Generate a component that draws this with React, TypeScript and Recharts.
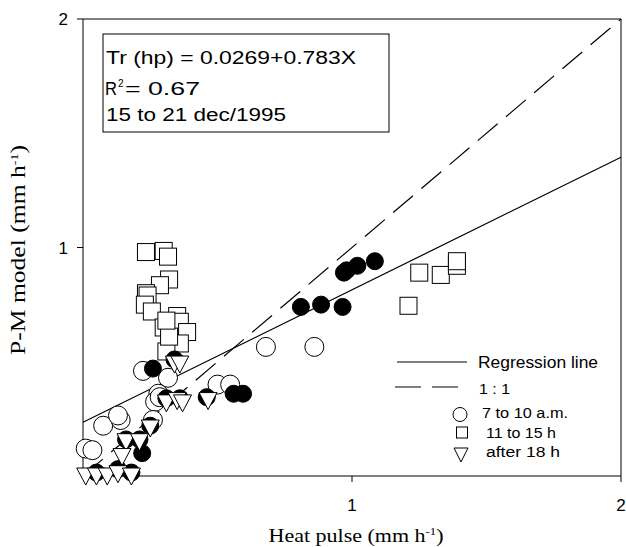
import React from 'react';
import { ScatterChart, Scatter, XAxis, YAxis, ReferenceLine } from 'recharts';

// readings taken off the figure, [heat pulse, P-M model] in mm/h
const morning: [number, number][] = [
    [0.68, 0.565], [0.86, 0.565], [0.5, 0.4], [0.547, 0.4], [0.223, 0.46], [0.316, 0.43],
    [0.28, 0.36], [0.268, 0.325], [0.285, 0.345], [0.075, 0.22], [0.14, 0.245], [0.13, 0.265],
    [0.26, 0.245], [0.01, 0.12], [0.035, 0.113],
];
const midday: [number, number][] = [
    [0.234, 0.98], [0.3, 0.985], [0.316, 0.96], [0.32, 0.86], [0.286, 0.835], [0.234, 0.8],
    [0.24, 0.79], [0.23, 0.75], [0.256, 0.72], [0.35, 0.7], [0.36, 0.675], [0.387, 0.63],
    [0.3, 0.65], [0.36, 0.58], [0.31, 0.545], [0.32, 0.61], [0.31, 0.68],
    [1.25, 0.89], [1.33, 0.88], [1.39, 0.92], [1.39, 0.94], [1.21, 0.745],
];
const filled: [number, number][] = [
    [0.81, 0.74], [0.885, 0.75], [0.965, 0.74], [0.97, 0.89], [0.98, 0.9], [1.02, 0.92],
    [1.085, 0.94], [0.56, 0.36], [0.595, 0.36], [0.22, 0.1], [0.26, 0.47], [0.34, 0.51],
    [0.31, 0.34], [0.46, 0.345], [0.21, 0.16], [0.16, 0.16], [0.25, 0.22], [0.05, 0.015],
    [0.18, 0.015], [0.13, 0.03], [0.36, 0.34],
];
const evening: [number, number][] = [
    [0.34, 0.49], [0.36, 0.49], [0.31, 0.32], [0.35, 0.33], [0.37, 0.32], [0.465, 0.33],
    [0.25, 0.21], [0.16, 0.15], [0.21, 0.15], [0.145, 0.085], [0.01, 0.0], [0.05, 0.0],
    [0.09, 0.0], [0.13, 0.01], [0.18, 0.0],
];

// lines as drawn in the figure
const regressionLine: [number, number][] = [[0, 0.235], [2, 1.395]];
const oneToOne: [number, number][] = [[0, 0], [2, 2]];

const axisTicks = [1, 2];
const axisDomain = [0, 2];

const toPoints = (arr: [number, number][]) => arr.map(([x, y]) => ({ x, y }));

const sans = '"Liberation Sans", Arial, sans-serif';
const serif = '"Liberation Serif", "Times New Roman", serif';

const OpenCircle = (p: any) => <circle cx={p.cx} cy={p.cy} r={9.5} fill="#fff" stroke="#000" strokeWidth={1} />;
const FilledCircle = (p: any) => <circle cx={p.cx} cy={p.cy} r={8.5} fill="#000" stroke="#000" />;
const OpenSquare = (p: any) => <rect x={p.cx - 8.5} y={p.cy - 8.5} width={17} height={17} fill="#fff" stroke="#000" strokeWidth={1} />;
const DownTriangle = (p: any) => (
    <path d={`M${p.cx - 9},${p.cy - 8}L${p.cx + 9},${p.cy - 8}L${p.cx},${p.cy + 9}Z`} fill="#fff" stroke="#000" strokeWidth={1} />
);

const XTick = (p: any) => (
    <text x={p.x} y={p.y} dy={12} textAnchor="middle" fontFamily={sans} fontSize={17} fill="#000">{p.payload.value}</text>
);
const YTick = (p: any) => (
    <text x={p.x} y={p.y} dy={6} textAnchor="end" fontFamily={sans} fontSize={17} fill="#000">{p.payload.value}</text>
);

export default function App() {
    return (
        <div style={{ position: 'relative', width: 626, height: 547 }}>
            <style>{'body{margin:0;overflow:hidden}'}</style>
            <ScatterChart width={626} height={547} margin={{ top: 19, right: 5, left: 8, bottom: 0 }}>
                <XAxis type="number" dataKey="x" domain={axisDomain} ticks={axisTicks} interval={0} height={71}
                    tickSize={6} tickMargin={17} tick={<XTick />} stroke="#000" />
                <YAxis type="number" dataKey="y" domain={axisDomain} ticks={axisTicks} interval={0} width={75}
                    tickSize={6} tickMargin={9} tick={<YTick />} stroke="#000" />
                <ReferenceLine y={2} stroke="#000" />
                <ReferenceLine x={2} stroke="#000" />
                <Scatter data={toPoints(midday)} shape={OpenSquare} isAnimationActive={false} />
                <Scatter data={toPoints(morning)} shape={OpenCircle} isAnimationActive={false} />
                <Scatter data={toPoints(filled)} shape={FilledCircle} isAnimationActive={false} />
                <Scatter data={toPoints(evening)} shape={DownTriangle} isAnimationActive={false} />
                <ReferenceLine segment={toPoints(oneToOne)} stroke="#000" strokeWidth={1.2} strokeDasharray="26 11" />
                <ReferenceLine segment={toPoints(regressionLine)} stroke="#000" strokeWidth={1.2} />
            </ScatterChart>

            <svg width={626} height={547} style={{ position: 'absolute', left: 0, top: 0, pointerEvents: 'none' }}>
                {/* equation box */}
                <rect x={103} y={34} width={286} height={98} fill="#fff" stroke="#000" strokeWidth={1} />
                <g fontFamily={sans} fontSize={18} fill="#000">
                    <text x={106} y={64} textLength={250} lengthAdjust="spacingAndGlyphs">Tr (hp) = 0.0269+0.783X</text>
                    <text x={105} y={95} textLength={12} lengthAdjust="spacingAndGlyphs">R</text>
                    <text x={118} y={87} fontSize={10}>2</text>
                    <text x={125} y={95} textLength={75} lengthAdjust="spacingAndGlyphs"> = 0.67</text>
                    <text x={106} y={120.7} textLength={180} lengthAdjust="spacingAndGlyphs">15 to 21 dec/1995</text>
                </g>

                {/* legend */}
                <line x1={397} y1={362} x2={467} y2={362} stroke="#000" strokeWidth={1.2} />
                <line x1={395} y1={387} x2={463} y2={387} stroke="#000" strokeWidth={1.2} strokeDasharray="26 11" />
                <circle cx={460} cy={414.5} r={7} fill="#fff" stroke="#000" />
                <rect x={456.5} y={427} width={11} height={11} fill="#fff" stroke="#000" />
                <path d="M454,448L468,448L461,462Z" fill="#fff" stroke="#000" />
                <g fontFamily={sans} fill="#000">
                    <text x={478} y={368} fontSize={16} textLength={120} lengthAdjust="spacingAndGlyphs">Regression line</text>
                    <text x={479} y={394} fontSize={15} textLength={31} lengthAdjust="spacingAndGlyphs">1 : 1</text>
                    <text x={482} y={418} fontSize={14} textLength={86} lengthAdjust="spacingAndGlyphs">7 to 10 a.m.</text>
                    <text x={486} y={438} fontSize={14} textLength={70} lengthAdjust="spacingAndGlyphs">11 to 15 h</text>
                    <text x={486} y={457} fontSize={14} textLength={74} lengthAdjust="spacingAndGlyphs">after 18 h</text>
                </g>

                {/* axis titles */}
                <text x={356} y={542} textAnchor="middle" fontFamily={serif} fontSize={19} fill="#000"
                    textLength={175} lengthAdjust="spacingAndGlyphs">
                    Heat pulse (mm h<tspan dy={-7} fontSize={11}>-1</tspan><tspan dy={7}>)</tspan>
                </text>
                <text transform="translate(25,250) rotate(-90)" textAnchor="middle" fontFamily={serif} fontSize={20} fill="#000"
                    textLength={210} lengthAdjust="spacingAndGlyphs">
                    P-M model (mm h<tspan dy={-7} fontSize={11}>-1</tspan><tspan dy={7}>)</tspan>
                </text>
            </svg>
        </div>
    );
}
